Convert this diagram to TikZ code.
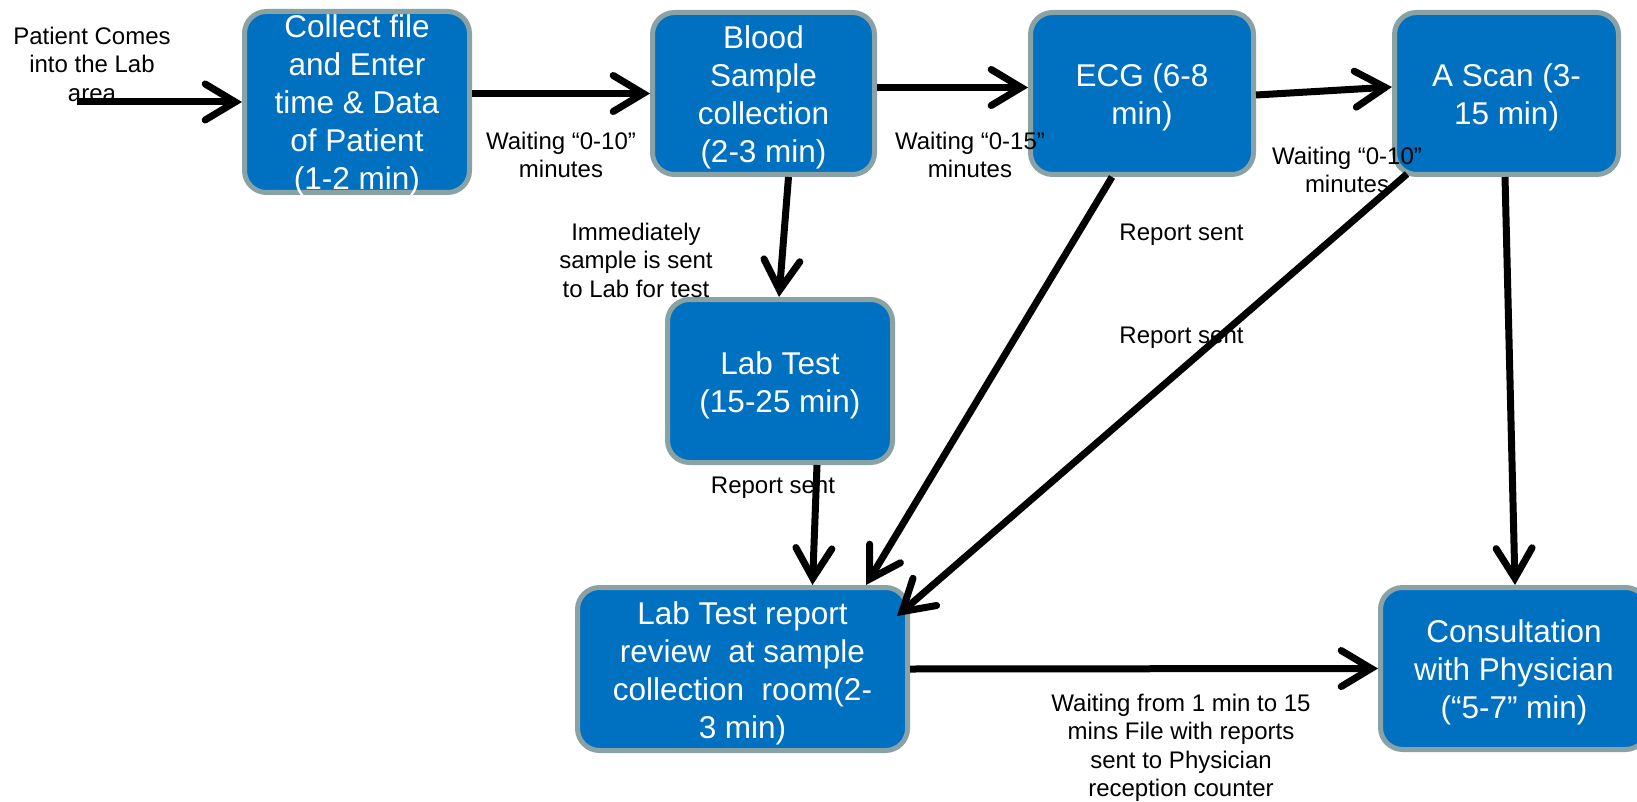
\documentclass[tikz,border=0pt]{standalone}
\usepackage{fontspec}
\setmainfont{Liberation Sans}
\usetikzlibrary{arrows.meta}
\definecolor{boxfill}{RGB}{0,112,192}
\definecolor{boxedge}{RGB}{138,162,164}
% extra room above the first line, so the text block sits a little lower in its box
\newcommand\boxtop{\rule{0pt}{31pt}}

\begin{document}
\begin{tikzpicture}[x=1pt,y=-1pt,
  stepbox/.style={draw=boxedge, line width=5pt, fill=boxfill, rounded corners=22pt,
    text=white, align=center, font=\fontsize{31.5}{38}\selectfont, inner sep=0pt},
  note/.style={align=center, font=\fontsize{24}{28.5}\selectfont, inner sep=0pt},
  flow/.style={line width=7pt,
    -{Straight Barb[length=30pt,width=36pt,line cap=round,line join=miter]}}
]
\useasboundingbox (0,0) rectangle (1637,802);

% process steps
\node[stepbox, minimum width=225pt, minimum height=181pt] (collect) at (357,102)
  {Collect file\\and Enter\\time \& Data\\of Patient\\\smash{(1-2 min)}};
\node[stepbox, minimum width=222pt, minimum height=162pt] (blood) at (763.5,93.5)
  {\boxtop Blood\\Sample\\collection\\(2-3 min)};
\node[stepbox, minimum width=223pt, minimum height=162pt] (ecg) at (1142,93.5)
  {\boxtop ECG (6-8\\min)};
\node[stepbox, minimum width=224pt, minimum height=162pt] (scan) at (1506.5,93.5)
  {\boxtop A Scan (3-\\15 min)};
\node[stepbox, minimum width=225pt, minimum height=163pt] (labtest) at (780,381)
  {\boxtop Lab Test\\(15-25 min)};
\node[stepbox, minimum width=330pt, minimum height=163pt] (review) at (742.5,669)
  {\boxtop Lab Test report\\review~ at sample\\collection~ room(2-\\3 min)};
\node[stepbox, minimum width=267pt, minimum height=162pt] (consult) at (1514,668.5)
  {\boxtop Consultation\\with Physician\\(“5-7” min)};

% annotations
\node[note] (arrive) at (92,64) {Patient Comes\\into the Lab\\area};
\node[note] (wait1) at (561,155) {Waiting “0-10”\\minutes};
\node[note] (wait2) at (970,155) {Waiting “0-15”\\minutes};
\node[note] (wait3) at (1347,170) {Waiting “0-10”\\minutes};
\node[note] (tolab) at (636,260) {Immediately\\sample is sent\\to Lab for test};
\node[note] (rep1) at (773,488) {Report sent};
\node[note] (rep2) at (1181.5,235) {Report sent};
\node[note] (rep3) at (1181.5,338) {Report sent};
\node[note] (waitdoc) at (1181,748)
  {Waiting from 1 min to 15\\mins File with reports\\sent to Physician\\reception counter};

% flow
\coordinate (entry) at (77,102);
\draw[flow] (entry) -- (collect.west);
\draw[flow] (collect.east |- blood.west) -- (blood.west);
\draw[flow] ([yshift=6pt]blood.east) -- ([yshift=6pt]ecg.west);
\draw[flow] ([yshift=-1.5pt]ecg.east) -- ([yshift=6.5pt]scan.west);
\draw[flow] ([xshift=25pt]blood.south) -- ([xshift=-1pt]labtest.north);
\draw[flow] ([xshift=37pt]labtest.south) -- ([xshift=70pt]review.north);
\draw[flow] ([xshift=-30pt]ecg.south) -- ([xshift=123.5pt]review.north);
\draw[flow] ([xshift=-99.5pt,yshift=3pt]scan.south) -- ([xshift=-13pt,yshift=53pt]review.east);
\draw[flow] ([xshift=-1.5pt]scan.south) -- ([xshift=1pt]consult.north);
\draw[flow] (review.east) -- (consult.west);
\end{tikzpicture}
\end{document}
